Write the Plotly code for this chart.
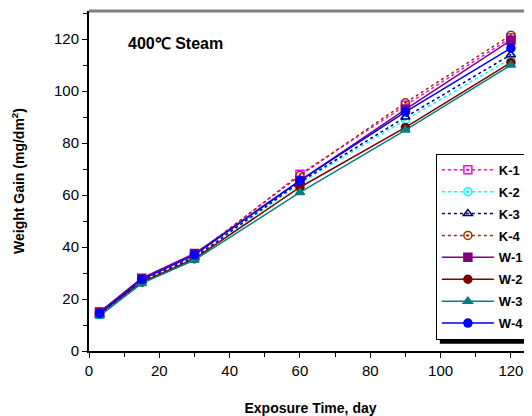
import plotly.graph_objects as go

# exposure time (days)
days = [3, 15, 30, 60, 90, 120]

# weight gain (mg/dm2) per specimen
k1 = [14.5, 27.5, 36.5, 68.0, 94.5, 120.5]
k2 = [14.0, 26.5, 35.5, 64.5, 89.0, 112.5]
k3 = [14.0, 27.0, 36.0, 65.0, 90.0, 114.0]
k4 = [15.0, 27.5, 37.0, 67.5, 95.5, 121.5]
w1 = [15.0, 28.0, 37.5, 65.5, 93.0, 119.5]
w2 = [14.5, 26.5, 35.5, 63.0, 86.0, 111.0]
w3 = [13.5, 26.0, 35.0, 61.0, 85.0, 110.0]
w4 = [14.5, 27.5, 37.0, 65.5, 92.0, 116.5]

series = [
    ("K-1", k1, "#FF00FF", "dot", "square-open-dot"),
    ("K-2", k2, "#00FFFF", "dot", "circle-open-dot"),
    ("K-3", k3, "#000080", "dot", "triangle-up-open"),
    ("K-4", k4, "#993300", "dot", "circle-open-dot"),
    ("W-1", w1, "#800080", "solid", "square"),
    ("W-2", w2, "#800000", "solid", "circle"),
    ("W-3", w3, "#008080", "solid", "triangle-up"),
    ("W-4", w4, "#0000FF", "solid", "circle"),
]

fig = go.Figure()
for name, vals, color, dash, symbol in series:
    fig.add_trace(go.Scatter(
        x=days, y=vals, name=name, mode="lines+markers", legendgroup=name,
        line=dict(color=color, width=1.5, dash=dash),
        marker=dict(symbol=symbol, size=8, color=color,
                    line=dict(color=color, width=1.5)),
    ))

# gray top border of the plot frame
fig.add_shape(type="line", xref="paper", yref="paper", x0=0, x1=1.02, y0=1, y1=1,
              line=dict(color="#808080", width=3))
# legend shadow
fig.add_shape(type="line", xref="paper", yref="paper", x0=0.792, x1=1.02, y0=0.027, y1=0.027,
              line=dict(color="black", width=4))

fig.add_annotation(text="<b>400℃ Steam</b>", xref="paper", yref="paper",
                   x=0.083, y=0.905, xanchor="left", yanchor="middle", showarrow=False,
                   font=dict(size=16, color="black"))

# the page body adds an 8px offset, margins are set to compensate
fig.update_layout(
    width=532, height=416,
    margin=dict(l=81, r=8, t=3, b=73),
    paper_bgcolor="white", plot_bgcolor="white",
    font=dict(family="Liberation Sans, Arial, sans-serif", color="black", size=15),
    showlegend=True,
    legend=dict(x=0.783, y=0.58, xanchor="left", yanchor="top",
                bgcolor="white", bordercolor="black", borderwidth=1,
                font=dict(size=13, color="black", weight="bold"),
                tracegroupgap=2, itemwidth=52),
)

fig.update_xaxes(
    range=[0, 126], tickvals=[0, 20, 40, 60, 80, 100, 120], automargin=False,
    showline=True, linecolor="black", linewidth=2, showgrid=False, zeroline=False,
    ticks="outside", ticklen=5, tickcolor="black", tickwidth=1,
    minor=dict(tickvals=[10, 30, 50, 70, 90, 110], ticks="outside", ticklen=4, tickcolor="black"),
    title=dict(text="<b>Exposure Time, day</b>", font=dict(size=14), standoff=25),
)
fig.update_yaxes(
    range=[0, 130.8], tickvals=[0, 20, 40, 60, 80, 100, 120], automargin=False,
    showline=True, linecolor="black", linewidth=2, showgrid=False, zeroline=False,
    ticks="outside", ticklen=5, tickcolor="black", tickwidth=1,
    minor=dict(tickvals=[10, 30, 50, 70, 90, 110, 130], ticks="outside", ticklen=4, tickcolor="black"),
    title=dict(text="<b>Weight Gain (mg/dm<sup>2</sup>)</b>", font=dict(size=14), standoff=26),
)

fig.write_html("out.html")
